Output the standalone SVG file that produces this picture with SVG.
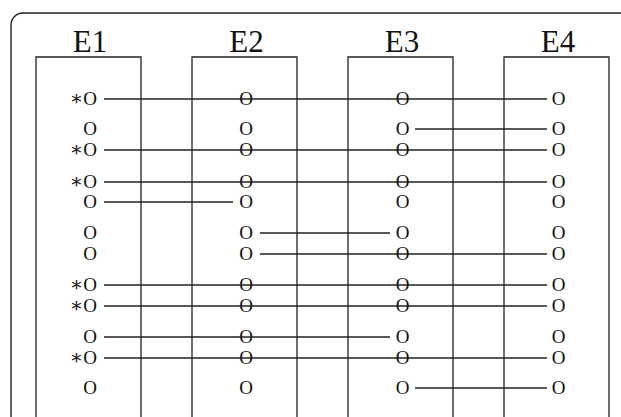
<svg xmlns="http://www.w3.org/2000/svg" width="621" height="417" viewBox="0 0 621 417">
<style>
.frame{fill:none;stroke:#222;stroke-width:1.4}
.box{fill:none;stroke:#222;stroke-width:1.3}
.hd{font-family:"Liberation Serif","DejaVu Serif",serif;font-size:31px;fill:#111;text-anchor:middle}
.p{font-family:"Liberation Serif","DejaVu Serif",serif;font-size:19px;fill:#111;text-anchor:middle}
.ps{font-family:"Liberation Serif","DejaVu Serif",serif;font-size:19px;fill:#111;text-anchor:end}
.a{font-family:"DejaVu Serif",serif;font-size:20px}
.c line{stroke:#222;stroke-width:1.3}
</style>
<path class="frame" d="M11,440 V25 A12,12 0 0 1 23,13 H640"/>
<g id="E1">
<path class="box" d="M36,430 V57 H141 V430"/>
<text class="hd" x="90" y="52">E1</text>
<text class="ps" x="97" y="105"><tspan class="a">∗</tspan>O</text>
<text class="p" x="90" y="135">O</text>
<text class="ps" x="97" y="156"><tspan class="a">∗</tspan>O</text>
<text class="ps" x="97" y="188"><tspan class="a">∗</tspan>O</text>
<text class="p" x="90" y="208">O</text>
<text class="p" x="90" y="239">O</text>
<text class="p" x="90" y="260">O</text>
<text class="ps" x="97" y="291"><tspan class="a">∗</tspan>O</text>
<text class="ps" x="97" y="312"><tspan class="a">∗</tspan>O</text>
<text class="p" x="90" y="343">O</text>
<text class="ps" x="97" y="364"><tspan class="a">∗</tspan>O</text>
<text class="p" x="90" y="394">O</text>
</g>
<g id="E2">
<path class="box" d="M192,430 V57 H297 V430"/>
<text class="hd" x="246.5" y="52">E2</text>
<text class="p" x="246" y="105">O</text>
<text class="p" x="246" y="135">O</text>
<text class="p" x="246" y="156">O</text>
<text class="p" x="246" y="188">O</text>
<text class="p" x="246" y="208">O</text>
<text class="p" x="246" y="239">O</text>
<text class="p" x="246" y="260">O</text>
<text class="p" x="246" y="291">O</text>
<text class="p" x="246" y="312">O</text>
<text class="p" x="246" y="343">O</text>
<text class="p" x="246" y="364">O</text>
<text class="p" x="246" y="394">O</text>
</g>
<g id="E3">
<path class="box" d="M348,430 V57 H453 V430"/>
<text class="hd" x="402" y="52">E3</text>
<text class="p" x="402.5" y="105">O</text>
<text class="p" x="402.5" y="135">O</text>
<text class="p" x="402.5" y="156">O</text>
<text class="p" x="402.5" y="188">O</text>
<text class="p" x="402.5" y="208">O</text>
<text class="p" x="402.5" y="239">O</text>
<text class="p" x="402.5" y="260">O</text>
<text class="p" x="402.5" y="291">O</text>
<text class="p" x="402.5" y="312">O</text>
<text class="p" x="402.5" y="343">O</text>
<text class="p" x="402.5" y="364">O</text>
<text class="p" x="402.5" y="394">O</text>
</g>
<g id="E4">
<path class="box" d="M504,430 V57 H609 V430"/>
<text class="hd" x="558" y="52">E4</text>
<text class="p" x="558.5" y="105">O</text>
<text class="p" x="558.5" y="135">O</text>
<text class="p" x="558.5" y="156">O</text>
<text class="p" x="558.5" y="188">O</text>
<text class="p" x="558.5" y="208">O</text>
<text class="p" x="558.5" y="239">O</text>
<text class="p" x="558.5" y="260">O</text>
<text class="p" x="558.5" y="291">O</text>
<text class="p" x="558.5" y="312">O</text>
<text class="p" x="558.5" y="343">O</text>
<text class="p" x="558.5" y="364">O</text>
<text class="p" x="558.5" y="394">O</text>
</g>
<g id="connectors" class="c">
<line x1="104" y1="99" x2="547" y2="99"/>
<line x1="415" y1="129" x2="547" y2="129"/>
<line x1="104" y1="150" x2="547" y2="150"/>
<line x1="104" y1="182" x2="547" y2="182"/>
<line x1="104" y1="202" x2="233" y2="202"/>
<line x1="260" y1="233" x2="390" y2="233"/>
<line x1="260" y1="254" x2="547" y2="254"/>
<line x1="104" y1="285" x2="547" y2="285"/>
<line x1="104" y1="306" x2="547" y2="306"/>
<line x1="104" y1="337" x2="390" y2="337"/>
<line x1="104" y1="358" x2="547" y2="358"/>
<line x1="415" y1="388" x2="547" y2="388"/>
</g>
</svg>
